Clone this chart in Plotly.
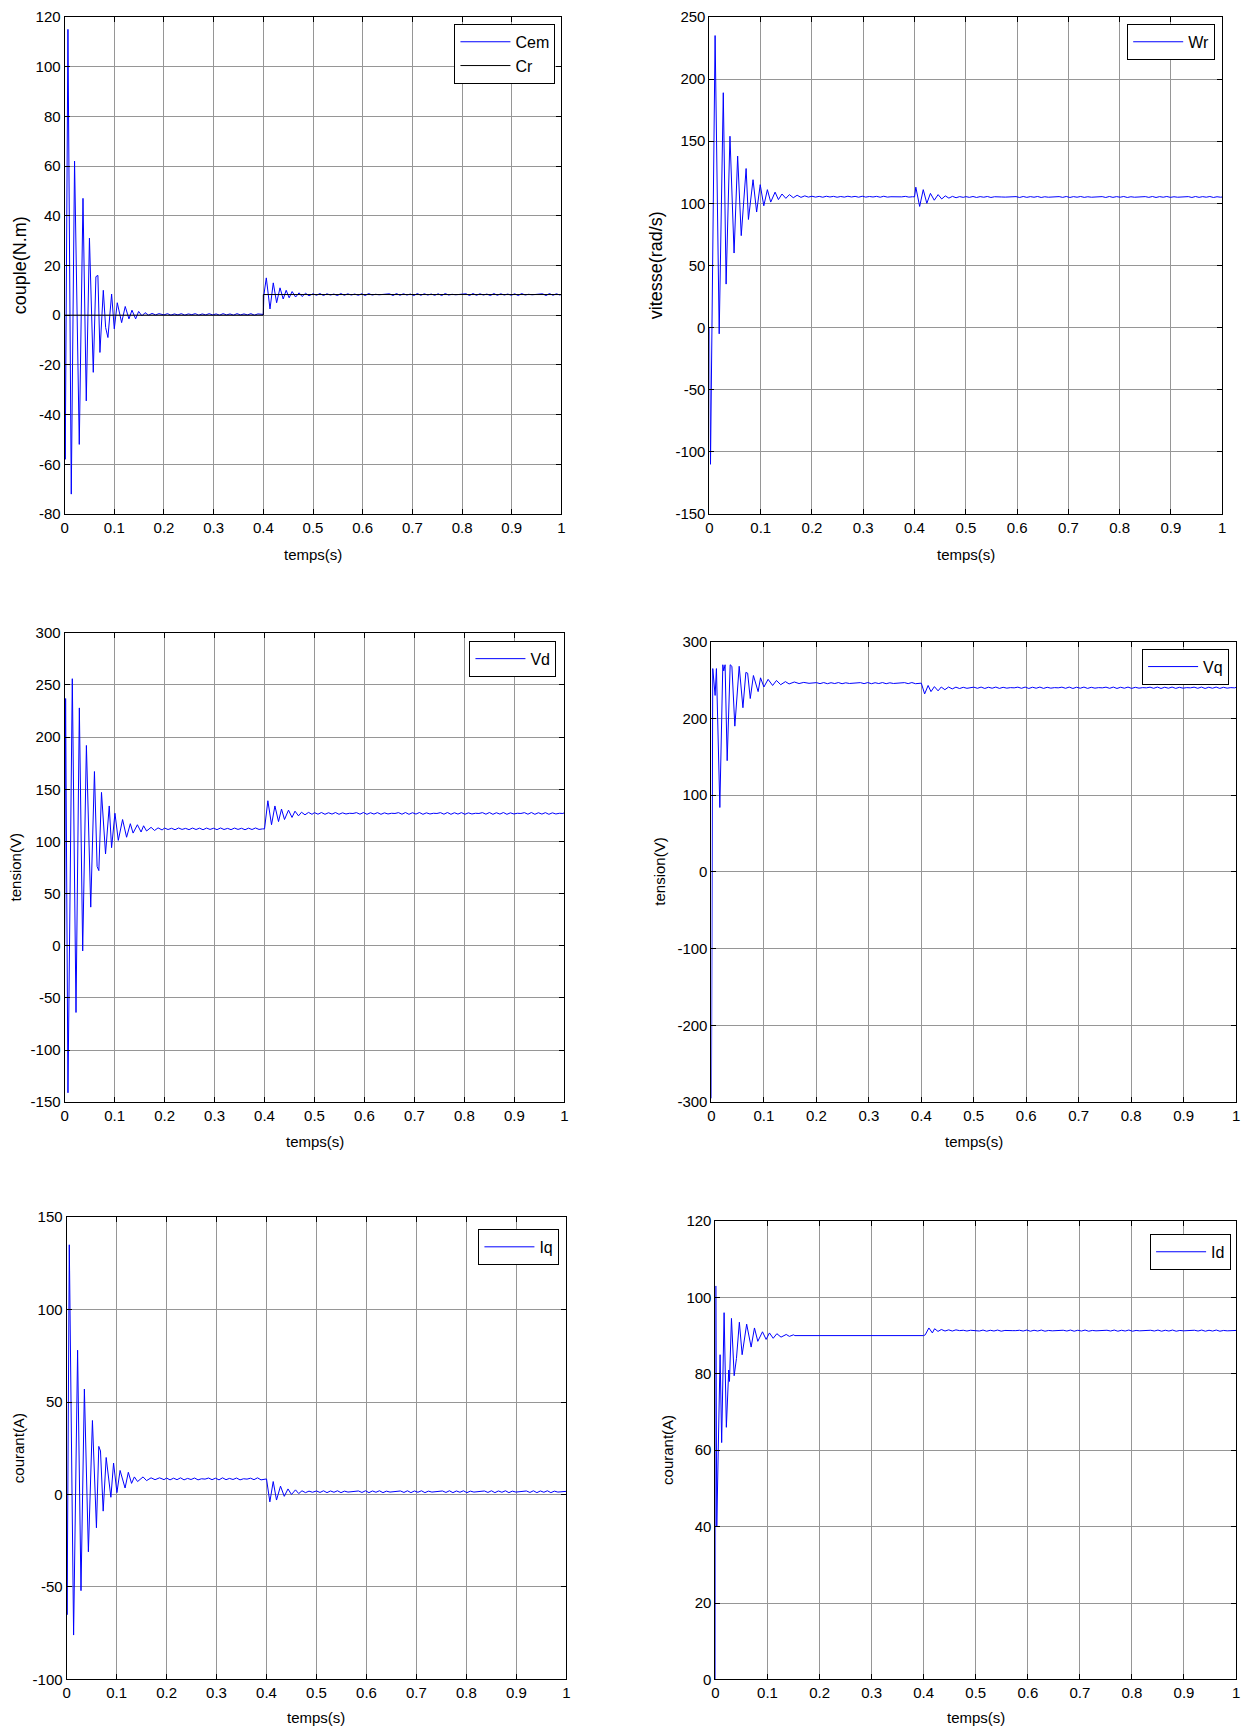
import plotly.graph_objects as go

W, H = 1250, 1733
FONT = "Liberation Sans, Arial, sans-serif"

# ---------------- shared data grids ----------------
X_TICKS = [0, 0.1, 0.2, 0.3, 0.4, 0.5, 0.6, 0.7, 0.8, 0.9, 1.0]
X_TICK_LABELS = ["0", "0.1", "0.2", "0.3", "0.4", "0.5", "0.6", "0.7", "0.8", "0.9", "1"]

T_MID = [0.200, 0.207, 0.214, 0.221, 0.228, 0.235, 0.242, 0.249, 0.256, 0.263,
         0.270, 0.277, 0.284, 0.291, 0.298, 0.305, 0.312, 0.319, 0.326, 0.333,
         0.340, 0.347, 0.354, 0.361, 0.368, 0.375, 0.382, 0.389, 0.396]

T_SS = [0.500, 0.507, 0.514, 0.521, 0.528, 0.535, 0.542, 0.549, 0.556, 0.563,
        0.570, 0.577, 0.584, 0.591, 0.598, 0.605, 0.612, 0.619, 0.626, 0.633,
        0.640, 0.647, 0.654, 0.661, 0.668, 0.675, 0.682, 0.689, 0.696, 0.703,
        0.710, 0.717, 0.724, 0.731, 0.738, 0.745, 0.752, 0.759, 0.766, 0.773,
        0.780, 0.787, 0.794, 0.801, 0.808, 0.815, 0.822, 0.829, 0.836, 0.843,
        0.850, 0.857, 0.864, 0.871, 0.878, 0.885, 0.892, 0.899, 0.906, 0.913,
        0.920, 0.927, 0.934, 0.941, 0.948, 0.955, 0.962, 0.969, 0.976, 0.983,
        0.990, 0.997, 1.000]

# ---------------- panel 1 : Cem / Cr ----------------
CEM_T0 = [0, 0.0013, 0.0067, 0.0134, 0.020, 0.0295, 0.037, 0.0436, 0.050, 0.0577,
          0.063, 0.067, 0.0711, 0.0779, 0.0826, 0.0872, 0.0946, 0.100, 0.106, 0.1148,
          0.122, 0.1295, 0.1356, 0.143, 0.149, 0.1557, 0.162, 0.169, 0.176, 0.183, 0.190]
CEM_Y0 = [0, -58, 115, -72, 62, -52, 47, -34.5, 31, -23,
          15.5, 16, -15, 10, -5, -9, 8.5, -5.5, 5, -3,
          3.5, -1.5, 2, -1.5, 1.5, -0.3, 1, 0, 0.7, 0.1, 0.6]
CEM_MID = [0.1, 0.6, 0.0, 0.5, 0.1, 0.6, 0.0, 0.5, 0.2, 0.6,
           0.0, 0.5, 0.1, 0.6, 0.1, 0.5, 0.0, 0.6, 0.1, 0.5,
           0.0, 0.6, 0.1, 0.5, 0.1, 0.6, 0.0, 0.5, 0.3]
CEM_T1 = [0.400, 0.401, 0.406, 0.4134, 0.420, 0.4268, 0.4336, 0.440, 0.446, 0.452,
          0.458, 0.465, 0.472, 0.478, 0.485, 0.492]
CEM_Y1 = [0.3, 8, 15, 2.5, 13, 5, 11, 6.5, 10, 7,
          9.5, 7.3, 9, 7.5, 8.8, 7.8]
CEM_SS = [8.6, 8.0, 8.7, 7.9, 8.6, 8.1, 8.5, 7.9, 8.7, 8.0,
          8.6, 8.1, 8.5, 8.0, 8.6, 7.9, 8.7, 8.1, 8.4, 8.2,
          8.3, 8.2, 8.6, 7.9, 8.7, 8.0, 8.6, 8.1, 8.5, 7.9,
          8.7, 8.0, 8.6, 8.1, 8.5, 8.0, 8.6, 7.9, 8.7, 8.1,
          8.4, 8.2, 8.3, 8.2, 8.6, 7.9, 8.7, 8.0, 8.6, 8.1,
          8.5, 7.9, 8.7, 8.0, 8.6, 8.1, 8.5, 8.0, 8.6, 7.9,
          8.7, 8.1, 8.4, 8.2, 8.3, 8.2, 8.6, 7.9, 8.7, 8.0,
          8.6, 8.1, 8.4]
CR_T = [0, 0.4, 0.4, 1.0]
CR_Y = [0, 0, 8.3, 8.3]

# ---------------- panel 2 : Wr ----------------
WR_T0 = [0, 0.002, 0.011, 0.019, 0.027, 0.0325, 0.040, 0.048, 0.055, 0.062,
         0.0715, 0.076, 0.085, 0.092, 0.099, 0.106, 0.113, 0.1195, 0.128, 0.1345,
         0.1415, 0.149, 0.156, 0.1635, 0.171, 0.1785, 0.186, 0.193]
WR_Y0 = [0, -110, 235, -5, 189, 35, 154, 60, 138, 74,
         128, 87, 119, 93, 115, 98, 111, 101, 109, 103,
         107.5, 104, 107, 104.5, 106.5, 104.8, 106, 105]
WR_MID = [105.7, 105.0, 105.6, 104.9, 105.7, 105.1, 105.6, 104.9, 105.5, 105.0,
          105.7, 105.1, 105.6, 104.9, 105.7, 105.0, 105.5, 105.1, 105.6, 104.9,
          105.7, 105.0, 105.3, 105.2, 105.3, 105.2, 105.6, 105.0, 105.3]
WR_T1 = [0.400, 0.4025, 0.410, 0.417, 0.424, 0.431, 0.4385, 0.446, 0.453, 0.460,
         0.467, 0.474, 0.481, 0.488, 0.495]
WR_Y1 = [105.2, 113, 97.5, 111, 100, 108, 102.5, 107, 103.5, 106,
         104.2, 105.6, 104.5, 105.4, 104.8]
WR_SS = [105.4, 104.8, 105.5, 104.7, 105.4, 104.9, 105.5, 104.7, 105.3, 104.9,
         105.1, 105.0, 105.1, 105.0, 105.4, 104.7, 105.5, 104.8, 105.4, 104.9,
         105.5, 104.7, 105.3, 104.9, 105.1, 105.0, 105.4, 104.8, 105.5, 104.7,
         105.4, 104.9, 105.5, 104.8, 105.3, 104.9, 105.1, 105.0, 105.4, 104.7,
         105.5, 104.8, 105.4, 104.9, 105.5, 104.7, 105.3, 104.9, 105.1, 105.0,
         105.4, 104.8, 105.5, 104.7, 105.4, 104.9, 105.5, 104.8, 105.3, 104.9,
         105.1, 105.0, 105.4, 104.7, 105.5, 104.8, 105.4, 104.9, 105.5, 104.7,
         105.3, 104.9, 105.1]

# ---------------- panel 3 : Vd ----------------
VD_T0 = [0, 0.002, 0.0067, 0.0154, 0.0228, 0.0295, 0.0362, 0.0436, 0.0523, 0.0597,
         0.065, 0.0685, 0.0738, 0.0819, 0.0893, 0.094, 0.1007, 0.1074, 0.116, 0.124,
         0.1315, 0.137, 0.1456, 0.153, 0.158, 0.164, 0.173, 0.180, 0.187, 0.195]
VD_Y0 = [0, 237, -141, 256, -64, 228, -5, 192, 37, 167,
         76, 72, 147, 88, 134, 94, 127, 101, 121, 104,
         117, 108, 116, 109, 115, 110, 113.5, 110.5, 113, 111]
VD_MID = [112.8, 111.4, 112.6, 111.2, 112.9, 111.5, 112.5, 111.3, 112.8, 111.4,
          112.7, 111.2, 112.8, 111.5, 112.6, 111.3, 112.9, 111.4, 112.5, 111.3,
          112.8, 111.5, 112.6, 111.2, 112.7, 111.4, 112.9, 111.5, 112.0]
VD_T1 = [0.400, 0.4067, 0.414, 0.4208, 0.428, 0.434, 0.440, 0.448, 0.455, 0.461,
         0.468, 0.474, 0.481, 0.488, 0.495]
VD_Y1 = [112, 139, 116, 134, 119, 131, 121, 130, 123, 129,
         124.5, 128, 125.5, 127.8, 126]
VD_SS = [127.6, 126.1, 127.7, 126.0, 127.5, 126.2, 127.7, 126.0, 127.4, 126.3,
         127.0, 126.8, 127.6, 126.1, 127.7, 126.0, 127.5, 126.2, 127.6, 126.0,
         127.4, 126.3, 127.0, 126.8, 127.6, 126.1, 127.7, 126.0, 127.5, 126.2,
         127.7, 126.0, 127.4, 126.3, 127.0, 126.8, 127.6, 126.1, 127.7, 126.0,
         127.5, 126.2, 127.6, 126.0, 127.4, 126.3, 127.0, 126.8, 127.6, 126.1,
         127.7, 126.0, 127.5, 126.2, 127.7, 126.0, 127.4, 126.3, 127.0, 126.8,
         127.6, 126.1, 127.7, 126.0, 127.5, 126.2, 127.6, 126.0, 127.4, 126.3,
         127.0, 126.8, 127.5]

# ---------------- panel 4 : Vq ----------------
VQ_T0 = [0, 0.0025, 0.007, 0.0095, 0.016, 0.0217, 0.0235, 0.026, 0.030, 0.0357,
         0.039, 0.0446, 0.0529, 0.060, 0.0656, 0.069, 0.074, 0.080, 0.089, 0.0936,
         0.100, 0.108, 0.1166, 0.124, 0.132, 0.141, 0.148, 0.158, 0.167, 0.176,
         0.186, 0.195]
VQ_Y0 = [-295, 265, 230, 265, 84, 270, 262, 270, 145, 270,
         268, 190, 268, 214, 260, 259, 226, 256, 235, 253,
         241, 251, 243, 249.5, 244, 248, 245, 247.5, 245.5, 247,
         245.8, 246.8]
VQ_MID = [246.7, 245.4, 246.8, 245.3, 246.6, 245.5, 246.8, 245.3, 246.5, 245.6,
          246.1, 246.0, 246.7, 245.4, 246.8, 245.3, 246.6, 245.5, 246.8, 245.3,
          246.5, 245.6, 246.1, 246.0, 246.7, 245.4, 246.8, 245.3, 246.0]
VQ_T1 = [0.400, 0.4064, 0.413, 0.4185, 0.425, 0.432, 0.438, 0.445, 0.452, 0.459,
         0.466, 0.473, 0.480, 0.487, 0.494]
VQ_Y1 = [246, 232, 243, 235, 241.5, 236, 241, 237.5, 241, 238.5,
         240.8, 239, 240.6, 239.3, 240.4]
VQ_SS = [240.8, 239.3, 240.9, 239.1, 240.7, 239.4, 240.9, 239.2, 240.6, 239.5,
         240.2, 239.9, 240.8, 239.3, 240.9, 239.1, 240.7, 239.4, 240.9, 239.2,
         240.6, 239.5, 240.2, 239.9, 240.8, 239.3, 240.9, 239.1, 240.7, 239.4,
         240.9, 239.2, 240.6, 239.5, 240.2, 239.9, 240.8, 239.3, 240.9, 239.1,
         240.7, 239.4, 240.9, 239.2, 240.6, 239.5, 240.2, 239.9, 240.8, 239.3,
         240.9, 239.1, 240.7, 239.4, 240.9, 239.2, 240.6, 239.5, 240.2, 239.9,
         240.8, 239.3, 240.9, 239.1, 240.7, 239.4, 240.9, 239.2, 240.6, 239.5,
         240.2, 239.9, 240.5]

# ---------------- panel 5 : Iq ----------------
IQ_T0 = [0, 0.001, 0.0054, 0.014, 0.022, 0.0288, 0.0356, 0.0436, 0.0517, 0.0597,
         0.0644, 0.0678, 0.0732, 0.0792, 0.0886, 0.094, 0.1007, 0.107, 0.117, 0.1235,
         0.130, 0.1356, 0.142, 0.153, 0.160, 0.169, 0.177, 0.186, 0.195]
IQ_Y0 = [0, -65, 135, -76, 78, -52, 57, -31, 40, -18,
         26, 23.5, -9, 20, -1.5, 17, 1, 13, 3.5, 12,
         6, 9.5, 7, 9.5, 7.5, 9, 8, 9, 8]
IQ_MID = [8.9, 7.9, 8.8, 8.0, 9.0, 7.9, 8.7, 8.1, 8.9, 7.9,
          8.5, 8.3, 8.9, 8.0, 8.8, 7.9, 9.0, 8.0, 8.7, 8.1,
          8.9, 7.9, 8.5, 8.3, 8.8, 8.0, 9.0, 7.9, 8.4]
IQ_T1 = [0.400, 0.4067, 0.4134, 0.420, 0.428, 0.4356, 0.443, 0.450, 0.458, 0.4644,
         0.471, 0.478, 0.485, 0.492]
IQ_Y1 = [8.4, -4, 7, -3, 4.5, -1, 3, 0, 2.5, 0.5,
         2, 1, 1.8, 1.2]
IQ_SS = [1.9, 1.1, 2.0, 1.0, 1.9, 1.2, 2.0, 1.0, 1.8, 1.3,
         1.5, 1.4, 1.9, 1.1, 2.0, 1.0, 1.9, 1.2, 2.0, 1.0,
         1.8, 1.3, 1.5, 1.4, 1.9, 1.1, 2.0, 1.0, 1.9, 1.2,
         2.0, 1.0, 1.8, 1.3, 1.5, 1.4, 1.9, 1.1, 2.0, 1.0,
         1.9, 1.2, 2.0, 1.0, 1.8, 1.3, 1.5, 1.4, 1.9, 1.1,
         2.0, 1.0, 1.9, 1.2, 2.0, 1.0, 1.8, 1.3, 1.5, 1.4,
         1.9, 1.1, 2.0, 1.0, 1.9, 1.2, 2.0, 1.0, 1.8, 1.3,
         1.5, 1.4, 1.7]

# ---------------- panel 6 : Id ----------------
ID_T0 = [0, 0.0007, 0.0026, 0.005, 0.009, 0.012, 0.0167, 0.021, 0.0256, 0.027,
         0.0308, 0.036, 0.0404, 0.046, 0.0513, 0.060, 0.0686, 0.075, 0.0814, 0.0904,
         0.0974, 0.1038, 0.111, 0.118, 0.126, 0.136, 0.142, 0.150, 0.1526]
ID_Y0 = [0, 103, 40, 60, 85, 62, 96, 66, 81, 78,
         94.5, 79.5, 84, 93.5, 85, 93, 87, 92, 88.5, 91,
         89, 90.7, 89.3, 90.5, 89.6, 90.3, 89.8, 90.2, 90]
ID_T1 = [0.400, 0.403, 0.410, 0.4167, 0.421, 0.4275, 0.434, 0.441, 0.448, 0.455,
         0.462, 0.469, 0.476, 0.483, 0.490, 0.497]
ID_Y1 = [90, 90.2, 92, 90.7, 91.8, 91.1, 91.6, 91.2, 91.5, 91.2,
         91.5, 91.3, 91.4, 91.2, 91.4, 91.3]
ID_SS = [91.4, 91.2, 91.45, 91.15, 91.4, 91.2, 91.45, 91.15, 91.35, 91.25,
         91.3, 91.3, 91.4, 91.2, 91.45, 91.15, 91.4, 91.2, 91.45, 91.15,
         91.35, 91.25, 91.3, 91.3, 91.4, 91.2, 91.45, 91.15, 91.4, 91.2,
         91.45, 91.15, 91.35, 91.25, 91.3, 91.3, 91.4, 91.2, 91.45, 91.15,
         91.4, 91.2, 91.45, 91.15, 91.35, 91.25, 91.3, 91.3, 91.4, 91.2,
         91.45, 91.15, 91.4, 91.2, 91.45, 91.15, 91.35, 91.25, 91.3, 91.3,
         91.4, 91.2, 91.45, 91.15, 91.4, 91.2, 91.45, 91.15, 91.35, 91.25,
         91.3, 91.3, 91.35]

Y_TICKS_1 = [-80, -60, -40, -20, 0, 20, 40, 60, 80, 100, 120]
Y_TICKS_2 = [-150, -100, -50, 0, 50, 100, 150, 200, 250]
Y_TICKS_3 = [-150, -100, -50, 0, 50, 100, 150, 200, 250, 300]
Y_TICKS_4 = [-300, -200, -100, 0, 100, 200, 300]
Y_TICKS_5 = [-100, -50, 0, 50, 100, 150]
Y_TICKS_6 = [0, 20, 40, 60, 80, 100, 120]


def join(*parts):
    out = []
    for p in parts:
        out += list(p)
    return out


def pair(ts, ys):
    n = min(len(ts), len(ys))
    return list(ts[:n]), list(ys[:n])


def series(t0, y0, mid, t1, y1, ss):
    a = pair(t0, y0)
    b = pair(T_MID, mid) if mid is not None else ([], [])
    c = pair(t1, y1)
    d = pair(T_SS, ss)
    return join(a[0], b[0], c[0], d[0]), join(a[1], b[1], c[1], d[1])


cem_t, cem_y = series(CEM_T0, CEM_Y0, CEM_MID, CEM_T1, CEM_Y1, CEM_SS)
wr_t, wr_y = series(WR_T0, WR_Y0, WR_MID, WR_T1, WR_Y1, WR_SS)
vd_t, vd_y = series(VD_T0, VD_Y0, VD_MID, VD_T1, VD_Y1, VD_SS)
vq_t, vq_y = series(VQ_T0, VQ_Y0, VQ_MID, VQ_T1, VQ_Y1, VQ_SS)
iq_t, iq_y = series(IQ_T0, IQ_Y0, IQ_MID, IQ_T1, IQ_Y1, IQ_SS)
id_t, id_y = series(ID_T0, ID_Y0, None, ID_T1, ID_Y1, ID_SS)

# layout boxes in pixels: (left, right, top, bottom)
PANELS = [
    dict(box=(61, 561, 8, 510), yticks=Y_TICKS_1, ylabel="couple(N.m)", ylsize=18, ylx=17, xly=551, leg=(555, 15)),
    dict(box=(710, 1226, 8, 510), yticks=Y_TICKS_2, ylabel="vitesse(rad/s)", ylsize=18, ylx=657, xly=551, leg=(1219, 15)),
    dict(box=(61, 564, 630, 1104), yticks=Y_TICKS_3, ylabel="tension(V)", ylsize=15, ylx=12, xly=1144, leg=(556, 638)),
    dict(box=(712, 1240, 639, 1104), yticks=Y_TICKS_4, ylabel="tension(V)", ylsize=15, ylx=660, xly=1144, leg=(1233, 646)),
    dict(box=(63, 566, 1220, 1687), yticks=Y_TICKS_5, ylabel="courant(A)", ylsize=15, ylx=14, xly=1725, leg=(559, 1232)),
    dict(box=(716, 1240, 1224, 1687), yticks=Y_TICKS_6, ylabel="courant(A)", ylsize=15, ylx=667, xly=1725, leg=(1235, 1237)),
]

TRACES = [
    [("Cem", cem_t, cem_y, "#0000ff"), ("Cr", CR_T, CR_Y, "#000000")],
    [("Wr", wr_t, wr_y, "#0000ff")],
    [("Vd", vd_t, vd_y, "#0000ff")],
    [("Vq", vq_t, vq_y, "#0000ff")],
    [("Iq", iq_t, iq_y, "#0000ff")],
    [("Id", id_t, id_y, "#0000ff")],
]

fig = go.Figure()
layout = dict(
    width=W, height=H,
    margin=dict(l=0, r=0, t=0, b=0),
    paper_bgcolor="white", plot_bgcolor="white",
    font=dict(family=FONT, size=15, color="black"),
    annotations=[],
)

for i, (p, trs) in enumerate(zip(PANELS, TRACES), start=1):
    sfx = "" if i == 1 else str(i)
    legname = "legend" + sfx
    for name, t, y, col in trs:
        fig.add_trace(go.Scatter(
            x=t, y=y, mode="lines", name=name,
            line=dict(color=col, width=1),
            xaxis="x" + sfx, yaxis="y" + sfx, legend=legname,
        ))
    l, r, tp, b = p["box"]
    yt = p["yticks"]
    common = dict(
        showline=True, linecolor="black", linewidth=1, mirror="ticks",
        ticks="inside", ticklen=5, tickwidth=1, tickcolor="black",
        showgrid=True, gridcolor="#969696", gridwidth=1, zeroline=False,
        tickfont=dict(family=FONT, size=15, color="black"),
    )
    layout["xaxis" + sfx] = dict(
        domain=[l / W, r / W], anchor="y" + sfx, range=[0, 1],
        tickmode="array", tickvals=X_TICKS, ticktext=X_TICK_LABELS, **common)
    layout["yaxis" + sfx] = dict(
        domain=[1 - b / H, 1 - tp / H], anchor="x" + sfx, range=[yt[0], yt[-1]],
        tickmode="array", tickvals=yt, ticktext=[str(v) for v in yt], **common)
    lx, ly = p["leg"]
    layout[legname] = dict(
        x=lx / W, y=1 - ly / H, xanchor="right", yanchor="top",
        xref="paper", yref="paper",
        bgcolor="white", bordercolor="black", borderwidth=1,
        font=dict(family=FONT, size=16, color="black"),
        traceorder="normal", tracegroupgap=0, itemwidth=50,
    )
    layout["annotations"].append(dict(
        text="temps(s)", xref="paper", yref="paper",
        x=(l + r) / 2 / W, y=1 - p["xly"] / H, xanchor="center", yanchor="middle",
        showarrow=False, font=dict(family=FONT, size=15, color="black")))
    layout["annotations"].append(dict(
        text=p["ylabel"], xref="paper", yref="paper", textangle=-90,
        x=p["ylx"] / W, y=1 - (tp + b) / 2 / H, xanchor="center", yanchor="middle",
        showarrow=False, font=dict(family=FONT, size=p["ylsize"], color="black")))

fig.update_layout(**layout)
fig.write_html("out.html",
               config={"displayModeBar": False},
               post_script="document.body.style.margin='0';document.body.style.overflow='hidden';")
